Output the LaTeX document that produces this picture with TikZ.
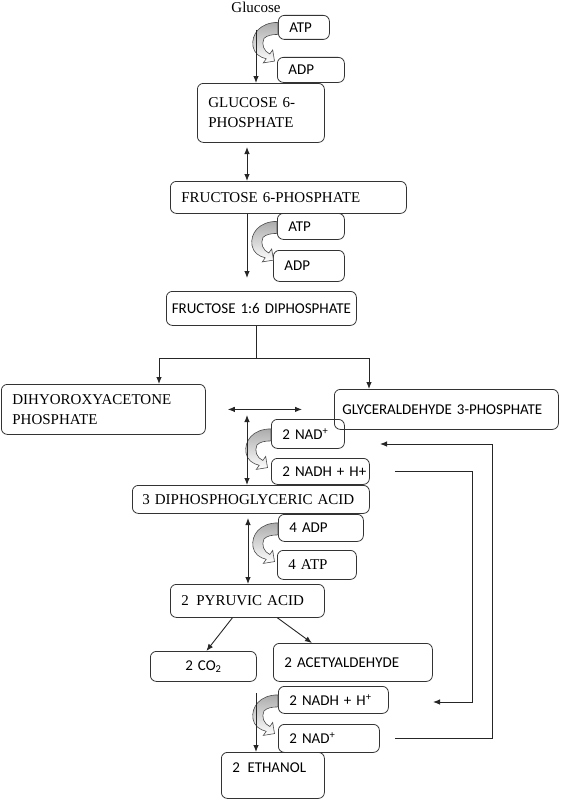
\documentclass[tikz,border=0pt]{standalone}
\usepackage{fontspec}
\setmainfont{Liberation Serif}
\newfontfamily\calibri{Carlito}
\usetikzlibrary{arrows.meta}
\tikzset{>={Latex[length=7pt,width=5.5pt]}}
\tikzset{
  box/.style={draw=black!80, line width=0.8pt, rounded corners=6pt, anchor=north west,
    inner xsep=11pt, inner ysep=0pt, align=left, font=\fontsize{15}{20}\selectfont},
  sbox/.style={box, font=\calibri\fontsize{15}{20}\selectfont},
  flow/.style={->, line width=0.9pt, black!85},
  cyc/.style={draw=black!70, line width=0.6pt, top color=gray!65, bottom color=white},
}
% curved arrow coming out of a cofactor box
\newcommand{\recycle}[1]{%
  \path[cyc, shift={([yshift=5pt]#1)}] (0,0) .. controls (-18,0) and (-27,12) .. (-25,24)
    .. controls (-24,31) and (-18,35) .. (-11.8,36.4) -- (-14.7,40.5) -- (-3.5,38.7)
    -- (-5.3,27.5) -- (-8.2,31.6) .. controls (-14,29) and (-17,22) .. (-14,16)
    .. controls (-11,13) and (-6,12) .. (0,12) -- cycle;}

\begin{document}
\begin{tikzpicture}[x=1pt,y=-1pt]
  \useasboundingbox (0,0) rectangle (560,800);

  % Nodes
  \node[font=\fontsize{15}{20}\selectfont] (glc) at (256,7) {Glucose};
  \node[sbox, text width=29pt, minimum height=24pt] (atpA) at (278,15) {ATP};
  \node[sbox, text width=45pt, minimum height=25pt] (adpA) at (277,57) {ADP};
  \node[box, text width=105pt, minimum height=59pt] (g6p) at (197,83) {GLUCOSE 6-\\PHOSPHATE};
  \node[box, text width=214pt, minimum height=32pt] (f6p) at (170,181) {FRUCTOSE 6-PHOSPHATE};
  \node[sbox, text width=45pt, minimum height=26pt] (atpB) at (277,213) {ATP};
  \node[sbox, text width=49pt, minimum height=31pt] (adpB) at (273,250) {ADP};
  \node[sbox, inner xsep=3pt, text width=184pt, align=center, minimum height=34pt] (f16) at (166,291) {FRUCTOSE 1:6 DIPHOSPHATE};
  \node[box, text width=182pt, minimum height=50pt] (dhap) at (1,384) {DIHYOROXYACETONE\\PHOSPHATE};
  \node[sbox, inner xsep=8pt, text width=208pt, minimum height=40pt] (gap) at (334,389) {GLYCERALDEHYDE 3-PHOSPHATE};
  \node[sbox, text width=51pt, minimum height=29pt] (nadA) at (271,419) {2 NAD\textsuperscript{+}};
  \node[sbox, text width=76pt, minimum height=26pt] (nadhA) at (271,458) {\mbox{2 NADH + H+}};
  \node[box, inner xsep=10pt, text width=217pt, minimum height=28pt] (dpga) at (132,485) {3 DIPHOSPHOGLYCERIC ACID};
  \node[sbox, text width=63pt, minimum height=27pt] (adpC) at (278,514) {4 ADP};
  \node[box, text width=57pt, minimum height=29pt] (atpC) at (277,550) {4 ATP};
  \node[box, text width=132pt, minimum height=33pt] (pyr) at (170,584) {2\enspace PYRUVIC ACID};
  \node[sbox, text width=84pt, align=center, minimum height=30pt] (co2) at (150,651) {2 CO\textsubscript{2}};
  \node[sbox, text width=137pt, minimum height=38pt] (acet) at (273,643) {2 ACETYALDEHYDE};
  \node[sbox, text width=88pt, minimum height=27pt] (nadhB) at (278,686) {2 NADH + H\textsuperscript{+}};
  \node[sbox, text width=79pt, minimum height=28pt] (nadB) at (278,724) {2 NAD\textsuperscript{+}};
  \node[sbox, text width=81pt, text depth=16pt, minimum height=46pt] (eth) at (221,752) {2\enspace ETHANOL};

  % Curved cofactor arrows
  \recycle{atpA.west}
  \recycle{atpB.west}
  \recycle{nadA.west}
  \recycle{adpC.west}
  \recycle{nadhB.west}

  % Axis points
  \coordinate (ax1) at (247,147);
  \coordinate (fork) at (256,358);
  \coordinate (forkL) at (159,358);
  \coordinate (forkR) at (369,358);
  \coordinate (ax2) at (247,415);
  \coordinate (ax3) at (248,518);
  \coordinate (ax4) at (256,693);
  \coordinate (r1) at (472,702);
  \coordinate (fb1) at (433,702);
  \coordinate (r2) at (492,444);
  \coordinate (fb2) at (380,444);

  % Edges
  \draw[flow, shorten <=14pt] (glc.south) -- (glc.south |- g6p.north);
  \draw[flow, <->] (ax1) -- (ax1 |- f6p.north);
  \draw[flow, shorten >=13pt] (ax1 |- f6p.south) -- (ax1 |- f16.north);
  \draw[line width=0.9pt, black!85] (fork |- f16.south) -- (fork);
  \draw[flow] (fork) -- (forkL) -- (forkL |- dhap.north);
  \draw[flow] (fork) -- (forkR) -- (forkR |- gap.north);
  \draw[flow, <->, shorten <=22pt, shorten >=32pt] (dhap.east) -- (gap.west);
  \draw[flow, <->] (ax2) -- (ax2 |- dpga.north);
  \draw[flow, <->] (ax3) -- (ax3 |- pyr.north);
  \draw[flow] ([xshift=-15pt]pyr.south) -- ([xshift=3pt]co2.north);
  \draw[flow] ([xshift=30pt]pyr.south) -- ([xshift=-41pt]acet.north);
  \draw[flow] (ax4) -- (ax4 |- eth.north);
  \draw[flow] ([xshift=25pt]nadhA.east) -| (r1) -- (fb1);
  \draw[flow] ([xshift=15pt]nadB.east) -| (r2) -- (fb2);

\end{tikzpicture}
\end{document}
